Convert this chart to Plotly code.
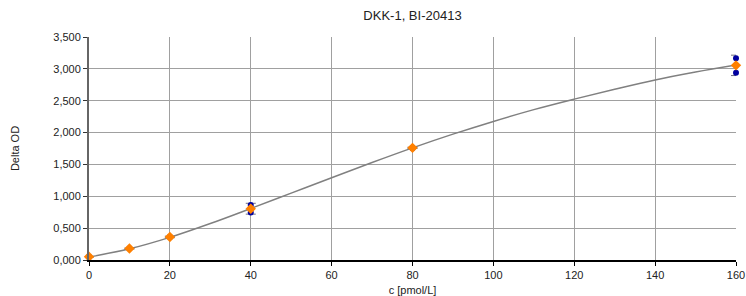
import plotly.graph_objects as go

# Concentrations (pmol/L)
conc = [0, 10, 20, 40, 80, 160]
# Replicate measurements (Delta OD)
rep1 = [0.050, 0.180, 0.362, 0.865, 1.765, 3.165]
rep2 = [0.050, 0.180, 0.362, 0.745, 1.755, 2.940]
# Mean values and error (SD)
mean_vals = [0.050, 0.180, 0.362, 0.805, 1.760, 3.055]
err_vals = [0.005, 0.008, 0.012, 0.085, 0.010, 0.160]

# Fitted curve
fit_x = [0, 10, 20, 30, 40, 50, 60, 70, 80, 90, 100, 110, 120, 130, 140, 150, 160]
fit_y = [0.045, 0.175, 0.355, 0.572, 0.808, 1.050, 1.292, 1.530, 1.760, 1.975, 2.175, 2.360, 2.525, 2.680, 2.826, 2.950, 3.060]

x_ticks = [0, 20, 40, 60, 80, 100, 120, 140, 160]
y_ticks = [0, 0.5, 1.0, 1.5, 2.0, 2.5, 3.0, 3.5]

fig = go.Figure()
fig.add_trace(go.Scatter(x=fit_x, y=fit_y, mode="lines", line=dict(color="#808080", width=1.5, shape="spline"),
                         hoverinfo="skip", showlegend=False, cliponaxis=False))
fig.add_trace(go.Scatter(x=conc, y=mean_vals, mode="markers", marker=dict(size=1, color="rgba(0,0,0,0)"),
                         error_y=dict(type="data", array=err_vals, visible=True, color="#707080", thickness=1, width=5),
                         showlegend=False, cliponaxis=False))
fig.add_trace(go.Scatter(x=conc + conc, y=rep1 + rep2, mode="markers",
                         marker=dict(symbol="circle", size=6, color="#0000a0"), showlegend=False, cliponaxis=False))
fig.add_trace(go.Scatter(x=conc, y=mean_vals, mode="markers",
                         marker=dict(symbol="diamond", size=8, color="#ff8000"), showlegend=False, cliponaxis=False))

fig.update_layout(
    width=746, height=296,
    margin=dict(l=89, r=10, t=37, b=36, autoexpand=False),
    paper_bgcolor="white", plot_bgcolor="white",
    separators=",.",
    font=dict(family="Liberation Sans, Arial, sans-serif", size=11, color="#222"),
    title=dict(text="DKK-1, BI-20413", x=(89 + 736) / 2 / 746, xanchor="center", y=1 - 15 / 296, yanchor="middle",
               font=dict(size=13, color="#222")),
    xaxis=dict(range=[0, 160], tickvals=x_ticks, showgrid=True, gridcolor="#a0a0a0", gridwidth=1,
               showline=True, linecolor="#000", linewidth=1.5, ticks="outside", ticklen=4, tickcolor="#000",
               zeroline=False, automargin=False, title=dict(text="c [pmol/L]", font=dict(size=11), standoff=6)),
    yaxis=dict(range=[0, 3.5], tickvals=y_ticks, tickformat=".3f", showgrid=True, gridcolor="#a0a0a0", gridwidth=1,
               showline=True, linecolor="#666", linewidth=2, ticks="outside", ticklen=4, tickcolor="#333",
               zeroline=False, automargin=False, title=dict(text="Delta OD", font=dict(size=11), standoff=31)),
)

fig.write_html("out.html", config={"displayModeBar": False},
               post_script="document.body.style.margin='0';document.body.style.overflow='hidden';")
